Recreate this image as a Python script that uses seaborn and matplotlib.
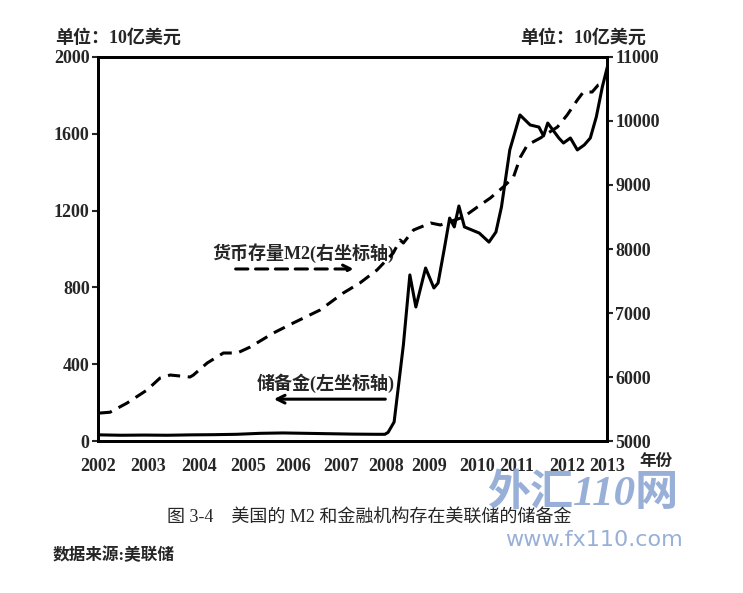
import numpy as np
import pandas as pd
import matplotlib.pyplot as plt
import seaborn as sns

# 储备金 (left axis, 10亿美元) -- x in year units as drawn on the chart
res_x = [2002.04, 2002.5, 2003.0, 2003.5, 2004.0, 2004.5, 2005.0, 2005.5, 2006.0,
         2006.5, 2007.0, 2007.5, 2008.0, 2008.2, 2008.27, 2008.4, 2008.6, 2008.74,
         2008.87, 2009.08, 2009.26, 2009.35, 2009.48, 2009.6, 2009.7, 2009.8,
         2009.92, 2010.24, 2010.45, 2010.6, 2010.72, 2010.9, 2011.12, 2011.34,
         2011.53, 2011.63, 2011.72, 2011.88, 2011.96, 2012.06, 2012.21, 2012.36,
         2012.51, 2012.64, 2012.77, 2012.9, 2013.03, 2013.13, 2013.22, 2013.31]
res_y = [32, 30, 31, 30, 32, 33, 35, 40, 42, 40, 38, 36, 35, 35, 45, 99, 500, 865,
         698, 901, 797, 823, 995, 1161, 1115, 1224, 1115, 1083, 1036, 1088, 1219,
         1516, 1698, 1646, 1635, 1589, 1656, 1604, 1578, 1552, 1578, 1516, 1542,
         1578, 1688, 1844, 1969, 2040, 2080, 2100]

# 货币存量M2 (right axis, 10亿美元)
m2_x = [2002.04, 2002.26, 2002.63, 2003.06, 2003.34, 2003.56, 2003.99, 2004.06,
        2004.36, 2004.71, 2005.01, 2005.29, 2005.79, 2006.22, 2006.8, 2007.3,
        2007.66, 2008.03, 2008.38, 2008.53, 2008.6, 2008.82, 2009.19, 2009.4,
        2009.9, 2010.2, 2010.48, 2010.76, 2010.98, 2011.13, 2011.28, 2011.56,
        2011.93, 2012.14, 2012.36, 2012.49, 2012.68, 2012.81, 2012.97]
m2_y = [5437, 5450, 5594, 5797, 5984, 6031, 6000, 6030, 6219, 6375, 6375, 6469,
        6687, 6844, 7047, 7312, 7469, 7672, 7937, 8140, 8094, 8297, 8406, 8375,
        8500, 8656, 8797, 8969, 9125, 9437, 9625, 9734, 9906, 10094, 10328,
        10453, 10453, 10562, 10594]

years = list(range(2002, 2014))
# tick spots as printed in the figure (slightly uneven)
year_ticks = [2002.0, 2003.08, 2004.18, 2005.24, 2006.21, 2007.25, 2008.22,
              2009.15, 2010.19, 2011.05, 2012.15, 2013.0]
left_ticks = [0, 400, 800, 1200, 1600, 2000]
right_ticks = [5000, 6000, 7000, 8000, 9000, 10000, 11000]

res = pd.DataFrame({'x': res_x, 'y': res_y})
m2 = pd.DataFrame({'x': m2_x, 'y': m2_y})

sns.set_style('white')
plt.rcParams['font.family'] = ['Liberation Serif', 'Noto Sans CJK SC']
plt.rcParams['axes.linewidth'] = 2

fig = plt.figure(figsize=(7.43, 5.93), dpi=100)
ax = fig.add_axes([0.1319, 0.2563, 0.685, 0.6476])
ax2 = ax.twinx()

sns.lineplot(data=res, x='x', y='y', ax=ax, color='black', lw=2.2, sort=False)
sns.lineplot(data=m2, x='x', y='y', ax=ax2, color='black', lw=2.2, sort=False,
             dashes=False, linestyle=(0, (4, 2.5)))

ax.set_xlim(2002, 2013)
ax.set_ylim(0, 2000)
ax2.set_ylim(5000, 11000)
ax.set_xticks(year_ticks)
ax.set_xticklabels([str(y) for y in years], fontsize=13, fontweight='bold')
ax.set_yticks(left_ticks)
ax.set_yticklabels([str(v) for v in left_ticks], fontsize=13, fontweight='bold')
ax2.set_yticks(right_ticks)
ax2.set_yticklabels([str(v) for v in right_ticks], fontsize=13, fontweight='bold')
ax.set_xlabel('')
ax.set_ylabel('')
ax2.set_ylabel('')

ax.tick_params(axis='x', direction='in', length=5, width=1.5, pad=12)
ax.tick_params(axis='y', direction='out', length=4, width=1.5, pad=2)
ax2.tick_params(axis='y', direction='out', length=4, width=1.5, pad=2)
for sp in list(ax.spines.values()) + list(ax2.spines.values()):
    sp.set_visible(True)
    sp.set_linewidth(2)
    sp.set_color('black')

fig.text(0.86, 1 - 462 / 593, '年份', fontsize=12, fontweight='bold', ha='left',
         va='center')
fig.text(0.074, 0.936, '单位：10亿美元', fontsize=13, fontweight='bold', ha='left', va='center')
fig.text(0.70, 0.936, '单位：10亿美元', fontsize=13, fontweight='bold', ha='left', va='center')

# annotations with arrows (axes fraction coords)
ax.text(0.582, 0.49, '货币存量M2(右坐标轴)', transform=ax.transAxes, fontsize=13,
        fontweight='bold', ha='right', va='center')
ax.annotate('', xy=(0.508, 0.448), xytext=(0.265, 0.448), xycoords='axes fraction',
            arrowprops=dict(arrowstyle='->', lw=2.2, linestyle=(0, (4, 2.5)),
                            color='black', mutation_scale=14))
ax.text(0.582, 0.15, '储备金(左坐标轴)', transform=ax.transAxes, fontsize=13,
        fontweight='bold', ha='right', va='center')
ax.annotate('', xy=(0.34, 0.109), xytext=(0.57, 0.109), xycoords='axes fraction',
            arrowprops=dict(arrowstyle='->', lw=2.2, color='black', mutation_scale=14))

fig.text(0.497, 0.128, '图 3-4    美国的 M2 和金融机构存在美联储的储备金', fontsize=13,
         ha='center', va='center')
fig.text(0.071, 0.062, '数据来源:美联储', fontsize=12, fontweight='bold', ha='left',
         va='center')

# watermark
fig.text(0.655, 0.168, '外汇110网', fontsize=31, fontweight='bold', style='italic',
         color='#7f9ccf', alpha=0.8, ha='left', va='center')
fig.text(0.68, 0.09, 'www.fx110.com', fontsize=16, color='#7f9ccf', alpha=0.8,
         family='DejaVu Sans', ha='left', va='center')

fig.savefig('out.png', dpi=100)
